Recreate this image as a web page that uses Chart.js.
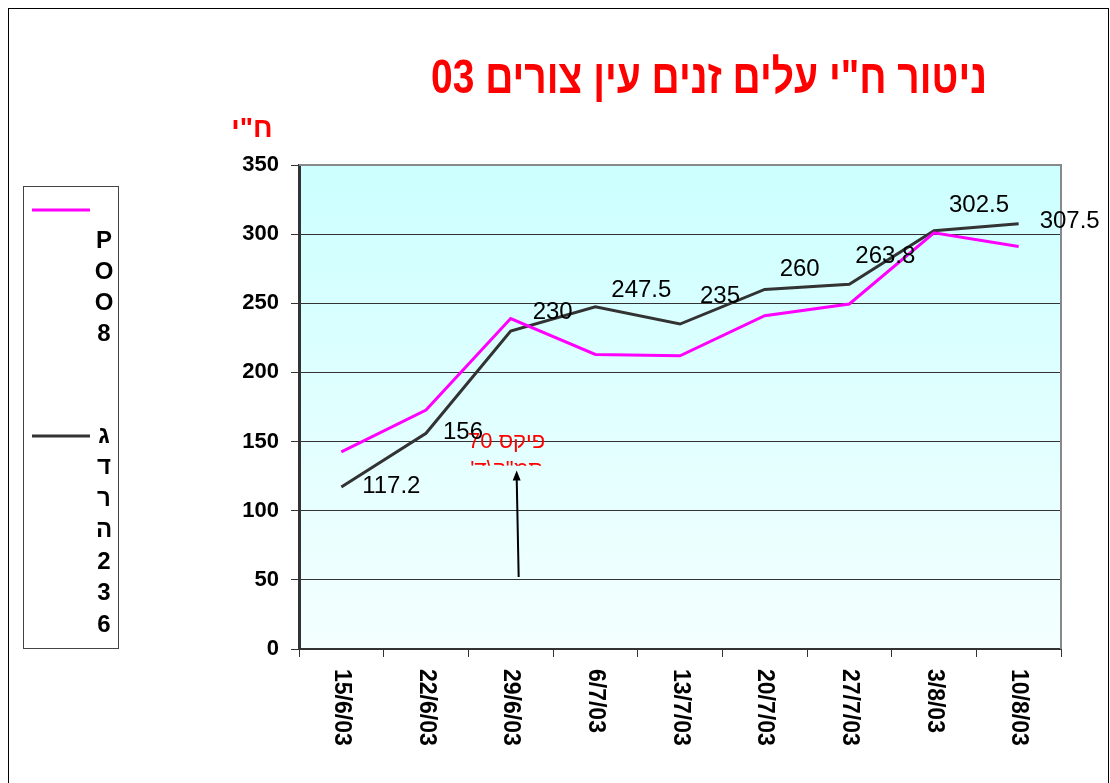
<!DOCTYPE html>
<html>
<head>
<meta charset="utf-8">
<script src="https://cdn.jsdelivr.net/npm/chart.js@4"></script>
<style>
  body { margin: 0; background: #fff; }
  canvas { display: block; }
</style>
</head>
<body>
<canvas id="chart" width="1110" height="783"></canvas>
<script>
// data
const categories = ['15/6/03', '22/6/03', '29/6/03', '6/7/03', '13/7/03', '20/7/03', '27/7/03', '3/8/03', '10/8/03'];
const poo8Values = [142.5, 172.8, 239, 213, 212, 241, 249.5, 301, 291];
const gederaValues = [117.2, 156, 230, 247.5, 235, 260, 263.8, 302.5, 307.5];
const seriesNames = ['POO8', 'גדרה 236'];
const yTickMax = 350;
const yTickStep = 50;
const chartTitle = 'ניטור ח"י עלים זנים עין צורים 03';
const yAxisTitle = 'ח"י';
const noteLines = ['פיקס 70', 'סמ"ק\\ד\''];

// label placement for the dark series values (pixels from the point)
const labelOffsets = [[50, -1], [37, -1], [42, -19], [46, -16], [40, -28], [35, -20], [36, -28], [45, -25], [51, -2]];

const FONT = '"Liberation Sans", Arial, "DejaVu Sans", sans-serif';

const decor = {
    id: 'decor',
    beforeDraw(chart) {
        const ctx = chart.ctx;
        const a = chart.chartArea;
        ctx.save();
        ctx.fillStyle = '#fff';
        ctx.fillRect(0, 0, chart.width, chart.height);
        const g = ctx.createLinearGradient(0, a.top, 0, a.bottom);
        g.addColorStop(0, '#ccffff');
        g.addColorStop(1, '#f4ffff');
        ctx.fillStyle = g;
        ctx.fillRect(a.left, a.top, a.right - a.left, a.bottom - a.top);
        ctx.restore();
    },
    afterDraw(chart) {
        const ctx = chart.ctx;
        const a = chart.chartArea;
        const xs = chart.scales.x;
        const ys = chart.scales.y;
        ctx.save();

        // plot frame top / right
        ctx.strokeStyle = '#888';
        ctx.lineWidth = 2;
        ctx.beginPath();
        ctx.moveTo(a.left, a.top);
        ctx.lineTo(a.right, a.top);
        ctx.lineTo(a.right, a.bottom);
        ctx.stroke();

        // outer border
        ctx.strokeStyle = '#000';
        ctx.lineWidth = 1;
        ctx.strokeRect(8.5, 8.5, 1100, 800);

        // title (stretched a bit vertically like the original)
        ctx.fillStyle = '#ff0000';
        ctx.direction = 'rtl';
        ctx.textAlign = 'center';
        ctx.textBaseline = 'middle';
        ctx.save();
        ctx.translate(709, 80);
        ctx.scale(1, 1.22);
        ctx.font = 'bold 39px ' + FONT;
        ctx.fillText(chartTitle, 0, 0);
        ctx.restore();
        ctx.font = 'bold 28px ' + FONT;
        ctx.fillText(yAxisTitle, 252, 129);

        // note + arrow
        ctx.font = '22px ' + FONT;
        const nx = xs.getPixelForValue(2) - 4;
        ctx.fillText(noteLines[0], nx, ys.getPixelForValue(150));
        ctx.save();
        const l2y = ys.getPixelForValue(131);
        ctx.beginPath();
        ctx.rect(nx - 70, l2y - 16, 140, 14);
        ctx.clip();
        ctx.fillText(noteLines[1], nx, l2y + 2);
        ctx.restore();
        ctx.direction = 'ltr';

        const ax = xs.getPixelForValue(2) + 6;
        const y0 = ys.getPixelForValue(52);
        const y1 = ys.getPixelForValue(129);
        ctx.strokeStyle = '#000';
        ctx.lineWidth = 2;
        ctx.beginPath();
        ctx.moveTo(ax + 2, y0);
        ctx.lineTo(ax, y1 + 6);
        ctx.stroke();
        ctx.fillStyle = '#000';
        ctx.beginPath();
        ctx.moveTo(ax, y1);
        ctx.lineTo(ax - 4, y1 + 10);
        ctx.lineTo(ax + 4, y1 + 10);
        ctx.closePath();
        ctx.fill();

        // x labels, rotated clockwise
        ctx.font = 'bold 23px ' + FONT;
        ctx.fillStyle = '#000';
        ctx.textAlign = 'left';
        ctx.textBaseline = 'middle';
        categories.forEach((c, i) => {
            ctx.save();
            ctx.translate(xs.getPixelForValue(i), a.bottom + 20);
            ctx.rotate(Math.PI / 2);
            ctx.fillText(c, 0, 0);
            ctx.restore();
        });

        // value labels
        ctx.font = '24px ' + FONT;
        ctx.textAlign = 'center';
        const meta = chart.getDatasetMeta(1);
        meta.data.forEach((pt, i) => {
            const o = labelOffsets[i];
            ctx.fillText(String(gederaValues[i]), pt.x + o[0], pt.y + o[1]);
        });

        // legend
        ctx.strokeStyle = '#444';
        ctx.lineWidth = 1;
        ctx.strokeRect(23.5, 186.5, 95, 462);
        const colors = chart.data.datasets.map(d => d.borderColor);
        const starts = [210, 436];
        ctx.font = 'bold 24px ' + FONT;
        ctx.fillStyle = '#000';
        seriesNames.forEach((name, s) => {
            ctx.strokeStyle = colors[s];
            ctx.lineWidth = 3;
            ctx.beginPath();
            ctx.moveTo(32, starts[s]);
            ctx.lineTo(90, starts[s]);
            ctx.stroke();
            const chars = name.replace(/ /g, '').split('');
            chars.forEach((ch, k) => {
                const yy = s === 0 ? starts[s] + 31 + k * 31 : starts[s] + k * 31.5;
                ctx.fillText(ch, 104, yy);
            });
        });

        ctx.restore();
    }
};

new Chart(document.getElementById('chart'), {
    type: 'line',
    data: {
        labels: categories,
        datasets: [{
            label: seriesNames[0],
            data: poo8Values,
            borderColor: '#ff00ff',
            borderWidth: 3,
            pointRadius: 0,
            tension: 0,
            fill: false
        }, {
            label: seriesNames[1],
            data: gederaValues,
            borderColor: '#333333',
            borderWidth: 3,
            pointRadius: 0,
            tension: 0,
            fill: false
        }]
    },
    options: {
        responsive: false,
        animation: false,
        events: [],
        layout: { padding: { left: 239, right: 49, top: 165, bottom: 0 } },
        plugins: {
            legend: { display: false },
            title: { display: false },
            tooltip: { enabled: false }
        },
        scales: {
            x: {
                offset: true,
                grid: { display: true, drawOnChartArea: false, drawTicks: true, tickLength: 8, color: '#333', offset: true },
                border: { display: true, color: '#333', width: 2 },
                ticks: { display: false },
                afterFit(scale) { scale.height = 134; }
            },
            y: {
                min: 0,
                max: yTickMax,
                grid: { color: '#333', lineWidth: 1, tickLength: 8 },
                border: { display: true, color: '#333', width: 3 },
                ticks: {
                    stepSize: yTickStep,
                    color: '#000',
                    padding: 12,
                    font: { family: FONT, size: 22, weight: 'bold' }
                },
                afterFit(scale) { scale.width = 60; }
            }
        }
    },
    plugins: [decor]
});
</script>
</body>
</html>
